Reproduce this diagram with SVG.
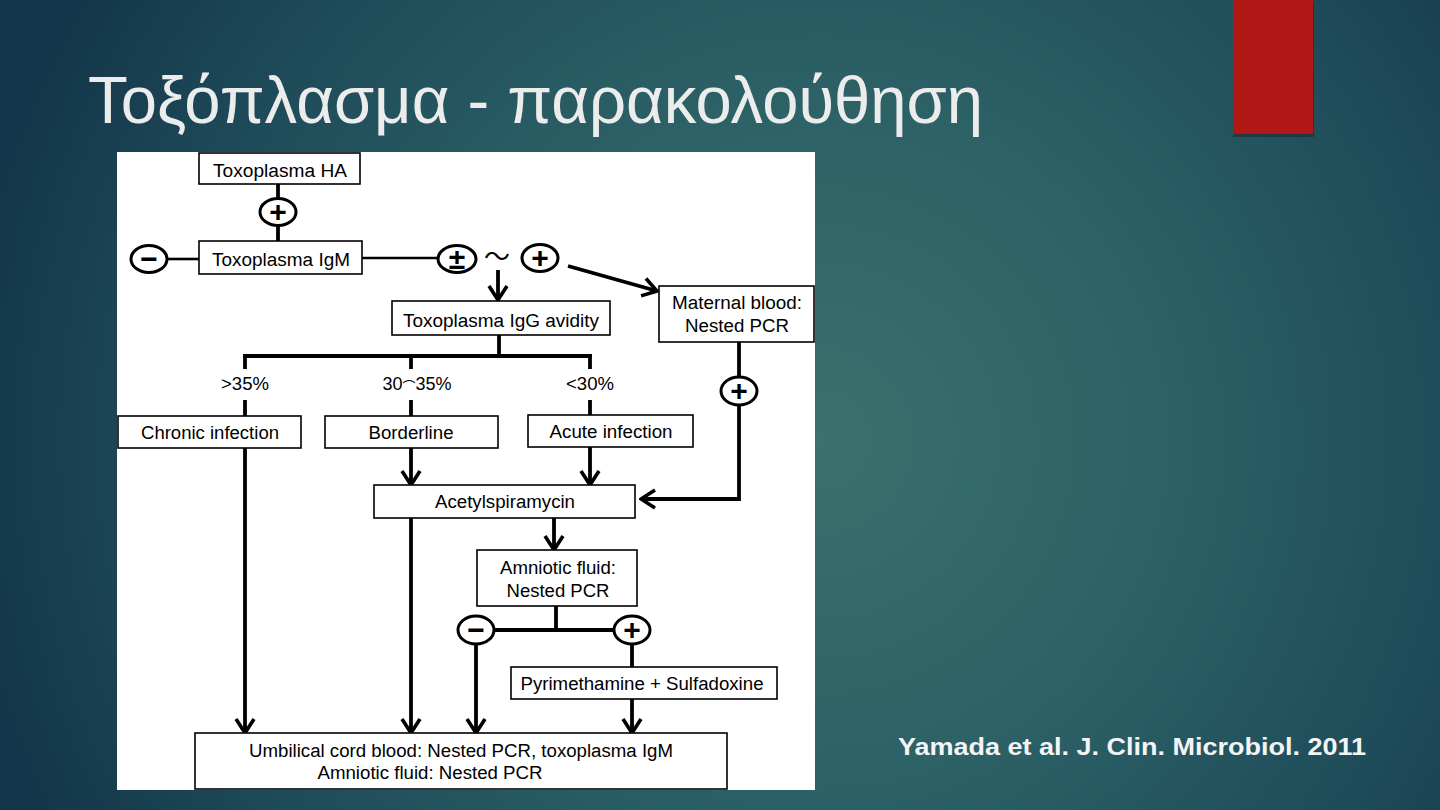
<svg xmlns="http://www.w3.org/2000/svg" width="1440" height="810" viewBox="0 0 1440 810">
<defs>
<radialGradient id="bg" gradientUnits="userSpaceOnUse" cx="820" cy="440" r="860">
<stop offset="0" stop-color="#3a716d"/>
<stop offset="0.4" stop-color="#2c6166"/>
<stop offset="0.75" stop-color="#1e4b59"/>
<stop offset="1" stop-color="#14364a"/>
</radialGradient>
<marker id="ah" markerUnits="userSpaceOnUse" viewBox="0 0 18 22" refX="16" refY="11" markerWidth="18" markerHeight="22" orient="auto">
<path d="M2,2 L16,11 L2,20" fill="none" stroke="#000" stroke-width="3.6" stroke-linejoin="miter"/>
</marker>
<style>
.box{fill:#fff;stroke:#000;stroke-width:1.6}
.t{font-family:"Liberation Sans",Arial,sans-serif;font-size:18px;fill:#000;text-anchor:middle}
.ln{fill:none;stroke:#000;stroke-width:3.8}
.thin{fill:none;stroke:#000;stroke-width:2.6}
.ell{fill:#fff;stroke:#000;stroke-width:3}
.sym{font-family:"Liberation Sans",Arial,sans-serif;font-size:30px;font-weight:bold;fill:#000;text-anchor:middle}
</style>
</defs>
<rect width="1440" height="810" fill="url(#bg)"/>
<rect x="1233" y="2" width="81" height="135" fill="#1a2a30" opacity="0.6"/>
<rect x="1233" y="0" width="80" height="134" fill="#b11714"/>
<text x="88" y="123" font-family="Liberation Sans, Arial, sans-serif" font-size="66" fill="#ececec" textLength="895" lengthAdjust="spacingAndGlyphs">Τοξόπλασμα - παρακολούθηση</text>
<text x="898" y="755" font-family="Liberation Sans, Arial, sans-serif" font-size="23" font-weight="bold" fill="#f4f4f4" textLength="468" lengthAdjust="spacingAndGlyphs">Yamada et al. J. Clin. Microbiol. 2011</text>
<rect x="117" y="152" width="698" height="638" fill="#fff"/>
<g id="connectors">
<line class="ln" x1="278" y1="184" x2="278" y2="199"/>
<line class="ln" x1="278" y1="225" x2="278" y2="241"/>
<line class="thin" x1="167" y1="259" x2="199" y2="259"/>
<line class="thin" x1="362" y1="258" x2="438" y2="258"/>
<line class="ln" x1="498" y1="270" x2="498" y2="300" marker-end="url(#ah)"/>
<line class="ln" x1="568" y1="266" x2="657" y2="291" marker-end="url(#ah)"/>
<line class="ln" x1="499" y1="335" x2="499" y2="356"/>
<line class="ln" x1="243" y1="356" x2="592" y2="356"/>
<line class="ln" x1="245" y1="354" x2="245" y2="369"/>
<line class="ln" x1="411" y1="354" x2="411" y2="369"/>
<line class="ln" x1="590" y1="354" x2="590" y2="369"/>
<line class="ln" x1="245" y1="400" x2="245" y2="416"/>
<line class="ln" x1="411" y1="400" x2="411" y2="416"/>
<line class="ln" x1="590" y1="400" x2="590" y2="415"/>
<line class="ln" x1="245" y1="448" x2="245" y2="733" marker-end="url(#ah)"/>
<line class="ln" x1="411" y1="448" x2="411" y2="485" marker-end="url(#ah)"/>
<line class="ln" x1="590" y1="447" x2="590" y2="485" marker-end="url(#ah)"/>
<line class="ln" x1="411" y1="518" x2="411" y2="733" marker-end="url(#ah)"/>
<line class="ln" x1="554" y1="518" x2="554" y2="550" marker-end="url(#ah)"/>
<line class="ln" x1="739" y1="342" x2="739" y2="377"/>
<path class="ln" d="M739,405 V499 H641" marker-end="url(#ah)"/>
<line class="ln" x1="556" y1="606" x2="556" y2="630"/>
<line class="ln" x1="494" y1="630" x2="614" y2="630"/>
<line class="ln" x1="476" y1="644" x2="476" y2="733" marker-end="url(#ah)"/>
<line class="ln" x1="632" y1="644" x2="632" y2="667"/>
<line class="ln" x1="632" y1="699" x2="632" y2="733" marker-end="url(#ah)"/>
</g>
<g id="ha"><rect class="box" x="199" y="153" width="161" height="31"/><text class="t" x="280" y="177" textLength="134" lengthAdjust="spacingAndGlyphs">Toxoplasma HA</text></g>
<g id="ha-pos"><ellipse class="ell" cx="278" cy="212" rx="18" ry="13.5"/><text class="sym" x="278" y="222">+</text></g>
<g id="igm"><rect class="box" x="199" y="241" width="163" height="33"/><text class="t" x="281" y="266" textLength="138" lengthAdjust="spacingAndGlyphs">Toxoplasma IgM</text></g>
<g id="igm-neg"><ellipse class="ell" cx="149" cy="259" rx="18" ry="13.5"/><text class="sym" x="149" y="269">−</text></g>
<g id="igm-pm"><ellipse class="ell" cx="457" cy="259" rx="19" ry="13.5"/><text class="sym" x="457" y="269" font-size="28">±</text></g>
<g id="igm-tilde"><text x="497" y="266" font-family="Noto Sans CJK JP, sans-serif" font-size="26" text-anchor="middle" fill="#000">〜</text></g>
<g id="igm-pos"><ellipse class="ell" cx="540" cy="258" rx="18" ry="13.5"/><text class="sym" x="540" y="268">+</text></g>
<g id="maternal"><rect class="box" x="659" y="286" width="155" height="56"/><text class="t" x="737" y="309" textLength="130" lengthAdjust="spacingAndGlyphs">Maternal blood:</text><text class="t" x="737" y="332" textLength="104" lengthAdjust="spacingAndGlyphs">Nested PCR</text></g>
<g id="maternal-pos"><ellipse class="ell" cx="739" cy="391" rx="18" ry="14"/><text class="sym" x="739" y="401">+</text></g>
<g id="avidity"><rect class="box" x="392" y="301" width="218" height="34"/><text class="t" x="501" y="327" textLength="196" lengthAdjust="spacingAndGlyphs">Toxoplasma IgG avidity</text></g>
<g id="lbl-high"><text class="t" x="245" y="390" textLength="48" lengthAdjust="spacingAndGlyphs">&gt;35%</text></g>
<g id="lbl-mid"><text class="t" x="417" y="390">30<tspan font-family="Noto Sans CJK JP, sans-serif" font-size="13" dy="1">⌒</tspan><tspan dy="-1">35%</tspan></text></g>
<g id="lbl-low"><text class="t" x="590" y="390" textLength="48" lengthAdjust="spacingAndGlyphs">&lt;30%</text></g>
<g id="chronic"><rect class="box" x="118" y="416" width="183" height="32"/><text class="t" x="210" y="439" textLength="138" lengthAdjust="spacingAndGlyphs">Chronic infection</text></g>
<g id="borderline"><rect class="box" x="325" y="416" width="173" height="32"/><text class="t" x="411" y="439" textLength="85" lengthAdjust="spacingAndGlyphs">Borderline</text></g>
<g id="acute"><rect class="box" x="528" y="415" width="165" height="32"/><text class="t" x="611" y="438" textLength="123" lengthAdjust="spacingAndGlyphs">Acute infection</text></g>
<g id="acetyl"><rect class="box" x="374" y="485" width="261" height="33"/><text class="t" x="505" y="508" textLength="140" lengthAdjust="spacingAndGlyphs">Acetylspiramycin</text></g>
<g id="amniotic"><rect class="box" x="477" y="550" width="160" height="56"/><text class="t" x="558" y="574" textLength="116" lengthAdjust="spacingAndGlyphs">Amniotic fluid:</text><text class="t" x="558" y="597" textLength="103" lengthAdjust="spacingAndGlyphs">Nested PCR</text></g>
<g id="amniotic-neg"><ellipse class="ell" cx="476" cy="630" rx="18" ry="14"/><text class="sym" x="476" y="640">−</text></g>
<g id="amniotic-pos"><ellipse class="ell" cx="632" cy="630" rx="18" ry="14"/><text class="sym" x="632" y="640">+</text></g>
<g id="pyr"><rect class="box" x="511" y="667" width="266" height="32"/><text class="t" x="642" y="690" textLength="243" lengthAdjust="spacingAndGlyphs">Pyrimethamine + Sulfadoxine</text></g>
<g id="umbilical"><rect class="box" x="195" y="733" width="532" height="56"/><text class="t" x="461" y="757" textLength="424" lengthAdjust="spacingAndGlyphs">Umbilical cord blood: Nested PCR, toxoplasma IgM</text><text class="t" x="430" y="779" textLength="225" lengthAdjust="spacingAndGlyphs">Amniotic fluid: Nested PCR</text></g>
</svg>
